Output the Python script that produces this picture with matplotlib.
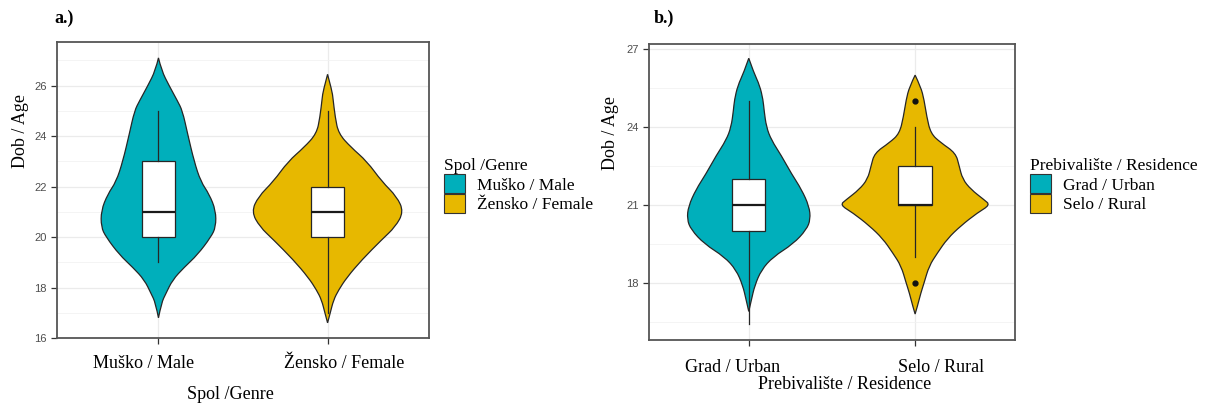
import matplotlib
matplotlib.use("Agg")
import matplotlib.pyplot as plt
from matplotlib.patches import Patch, PathPatch
from matplotlib.path import Path
from matplotlib.transforms import ScaledTranslation

TEAL = "#00AFBB"
GOLD = "#E7B800"
SERIF = "Liberation Serif"
SANS = "Liberation Sans"

# a.) Spol / Genre -- violin outlines (age, half width)
sex_labels = ["Muško / Male", "Žensko / Female"]
male_age = [27.1, 26.6, 26.0, 25.4, 25.0, 24.1, 23.0, 22.2, 21.7, 21.05,
            20.4, 20.0, 19.3, 18.8, 18.3, 17.75, 17.4, 16.8]
male_hw = [0, 0.018, 0.063, 0.112, 0.142, 0.172, 0.211, 0.25, 0.30, 0.339,
           0.339, 0.31, 0.231, 0.152, 0.083, 0.043, 0.018, 0]
female_age = [26.45, 25.8, 25.5, 24.75, 24.1, 23.56, 23.0, 22.2, 21.6, 21.0,
              20.4, 19.9, 19.1, 18.4, 17.9, 17.5, 17.0, 16.6]
female_hw = [0, 0.026, 0.032, 0.045, 0.065, 0.138, 0.233, 0.321, 0.41, 0.45,
             0.40, 0.321, 0.203, 0.114, 0.065, 0.035, 0.016, 0]
sex_box = [
    dict(q1=20, med=21, q3=23, whislo=19, whishi=25, fliers=[]),
    dict(q1=20, med=21, q3=22, whislo=17, whishi=25, fliers=[]),
]

# b.) Prebivalište / Residence
res_labels = ["Grad / Urban", "Selo / Rural"]
urban_age = [26.65, 26.1, 25.6, 25.05, 24.65, 24.0, 23.5, 22.9, 22.2, 21.6,
             20.95, 20.45, 20.05, 19.5, 19.0, 18.5, 17.9, 17.35, 16.9]
urban_hw = [0, 0.03, 0.066, 0.086, 0.092, 0.106, 0.136, 0.196, 0.257, 0.317,
            0.363, 0.371, 0.347, 0.267, 0.146, 0.076, 0.036, 0.016, 0]
rural_age = [26.0, 25.55, 25.05, 24.4, 23.75, 23.4, 23.0, 22.5, 22.0, 21.6,
             21.2, 21.0, 20.7, 20.2, 19.7, 19.15, 18.65, 18.0, 17.6, 17.1, 16.8]
rural_hw = [0, 0.034, 0.054, 0.07, 0.094, 0.154, 0.244, 0.265, 0.285, 0.335,
            0.415, 0.451, 0.375, 0.275, 0.194, 0.134, 0.084, 0.054, 0.034,
            0.014, 0]
res_box = [
    dict(q1=20, med=21, q3=22, whislo=16.4, whishi=25, fliers=[]),
    dict(q1=21, med=21, q3=22.5, whislo=19, whishi=24, fliers=[18, 25]),
]


def side(pts, first):
    # quadratic curves through the midpoints, so the outline comes out smooth
    verts, codes = ([pts[0]], [Path.MOVETO]) if first else ([], [])
    for i in range(1, len(pts) - 1):
        if i == len(pts) - 2:
            end = pts[i + 1]
        else:
            end = ((pts[i][0] + pts[i + 1][0]) / 2, (pts[i][1] + pts[i + 1][1]) / 2)
        verts += [pts[i], end]
        codes += [Path.CURVE3, Path.CURVE3]
    return verts, codes


def violin(ax, pos, age, hw, col):
    right = [(pos + w, a) for a, w in zip(age, hw)]
    left = [(pos - w, a) for a, w in zip(age, hw)][::-1]
    v1, c1 = side(right, True)
    v2, c2 = side(left, False)
    path = Path(v1 + v2 + [right[0]], c1 + c2 + [Path.CLOSEPOLY])
    ax.add_patch(PathPatch(path, facecolor=col, edgecolor="#262626", lw=0.9, zorder=2))


def draw_panel(ax, violins, boxes, labels, ylim, yticks, yminor):
    for pos, (age, hw, col) in enumerate(violins, start=1):
        violin(ax, pos, age, hw, col)
    ax.bxp(boxes, positions=[1, 2], widths=0.2, patch_artist=True,
           showcaps=False,
           boxprops=dict(facecolor="white", edgecolor="#262626", lw=0.9),
           medianprops=dict(color="#1a1a1a", lw=1.6),
           whiskerprops=dict(color="#262626", lw=0.9),
           flierprops=dict(marker="o", markerfacecolor="#111", markeredgecolor="#111",
                           markersize=3.5),
           zorder=3)
    ax.set_xlim(0.4, 2.6)
    ax.set_ylim(*ylim)
    ax.set_yticks(yticks)
    ax.set_yticks(yminor, minor=True)
    ax.set_xticks([1, 2])
    ax.set_xticklabels(labels, family=SERIF, fontsize=13)
    ax.grid(True, which="major", color="#EBEBEB", lw=0.9, zorder=0)
    ax.grid(True, which="minor", axis="y", color="#F2F2F2", lw=0.6, zorder=0)
    ax.set_axisbelow(True)
    ax.tick_params(axis="y", which="minor", length=0)
    ax.tick_params(axis="both", which="major", length=4, width=0.9, color="#333333")
    ax.tick_params(axis="y", labelsize=8, labelcolor="#4D4D4D")
    for t in ax.get_yticklabels():
        t.set_family(SANS)
    for s in ax.spines.values():
        s.set_color("#555555")
        s.set_linewidth(1.3)
    ax.set_ylabel("Dob / Age", family=SERIF, fontsize=13)


fig = plt.figure(figsize=(12.13, 4.05), dpi=100)
ax1 = fig.add_axes([0.047, 0.1654, 0.3067, 0.7309])
ax2 = fig.add_axes([0.535, 0.1605, 0.3017, 0.7309])

draw_panel(ax1, [(male_age, male_hw, TEAL), (female_age, female_hw, GOLD)],
           sex_box, sex_labels, (16.0, 27.73), [16, 18, 20, 22, 24, 26],
           [17, 19, 21, 23, 25, 27])
draw_panel(ax2, [(urban_age, urban_hw, TEAL), (rural_age, rural_hw, GOLD)],
           res_box, res_labels, (15.8, 27.2), [18, 21, 24, 27],
           [16.5, 19.5, 22.5, 25.5])

ax1.set_xlabel("Spol /Genre", family=SERIF, fontsize=13)
ax2.set_xlabel("Prebivalište / Residence", family=SERIF, fontsize=13)
ax1.xaxis.set_label_coords(0.465, -0.163)
ax2.xaxis.set_label_coords(0.535, -0.122)
ax1.yaxis.set_label_coords(-0.076, 0.70)
ax2.yaxis.set_label_coords(-0.082, 0.70)
ax1.tick_params(axis="x", pad=8)
ax2.tick_params(axis="x", pad=10)

# tick labels in the source sit a little off their ticks
for ax, shifts in [(ax1, [-15, 17]), (ax2, [-16, 26])]:
    for lab, dx in zip(ax.get_xticklabels(), shifts):
        lab.set_transform(lab.get_transform() + ScaledTranslation(dx / 100, 0, fig.dpi_scale_trans))

fig.text(0.045, 0.955, "a.)", family=SERIF, fontsize=13, fontweight="bold", va="center")
fig.text(0.539, 0.955, "b.)", family=SERIF, fontsize=13, fontweight="bold", va="center")

for x0, title, labels in [(444 / 1213, "Spol /Genre", sex_labels),
                          (1030 / 1213, "Prebivalište / Residence", res_labels)]:
    handles = [Patch(facecolor=TEAL, edgecolor="#333333", lw=0.8),
               Patch(facecolor=GOLD, edgecolor="#333333", lw=0.8)]
    leg = fig.legend(handles, labels, title=title, loc="upper left",
                     bbox_to_anchor=(x0, 1 - 158 / 405), frameon=False,
                     prop=dict(family=SERIF, size=12.5),
                     title_fontproperties=dict(family=SERIF, size=12.5),
                     handlelength=1.2, handleheight=1.35, labelspacing=0.0,
                     handletextpad=0.7, borderaxespad=0, borderpad=0,
                     alignment="left")

fig.savefig("out.png", dpi=100)
